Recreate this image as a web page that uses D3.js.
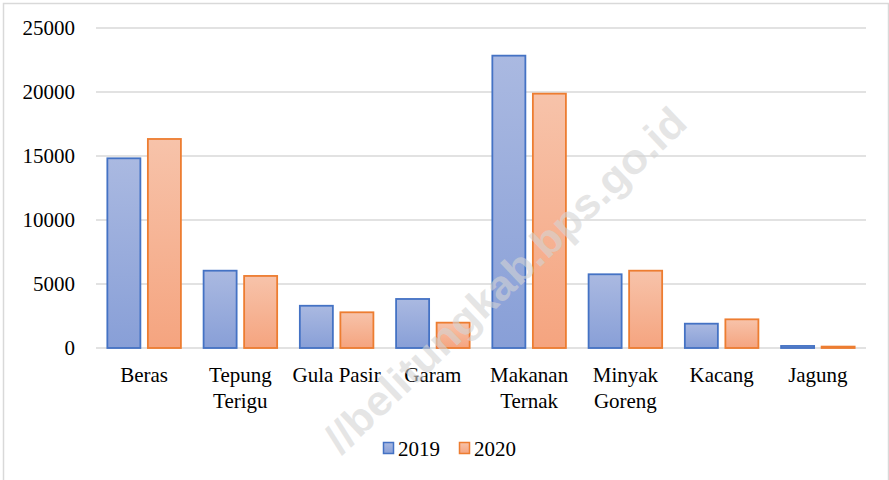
<!DOCTYPE html>
<html>
<head>
<meta charset="utf-8">
<script src="https://cdn.jsdelivr.net/npm/d3@7"></script>
<style>
  body { margin: 0; background: #fff; }
</style>
</head>
<body>
<svg id="chart" width="889" height="480"></svg>
<script>
// data
var categories = ["Beras", "Tepung Terigu", "Gula Pasir", "Garam", "Makanan Ternak", "Minyak Goreng", "Kacang", "Jagung"];
// labels wrapped the way the original shows them
var catLines = [["Beras"], ["Tepung", "Terigu"], ["Gula Pasir"], ["Garam"], ["Makanan", "Ternak"], ["Minyak", "Goreng"], ["Kacang"], ["Jagung"]];
var series = ["2019", "2020"];
var values2019 = [14820, 6040, 3300, 3830, 22840, 5760, 1900, 160];
var values2020 = [16330, 5630, 2790, 1980, 19870, 6040, 2240, 110];
var yTicks = [0, 5000, 10000, 15000, 20000, 25000];

var W = 889, H = 480;
var plot = {left: 96, right: 866, top: 28, bottom: 348};
var serif = '"Liberation Serif", Tinos, "Times New Roman", Times, "Noto Serif", "DejaVu Serif", FreeSerif, serif';

var svg = d3.select("#chart");

// gradients for the bars (lighter at top)
var defs = svg.append("defs");
var grads = [
  {id: "g2019", top: "#aab9e1", bottom: "#889fd7"},
  {id: "g2020", top: "#f7c3aa", bottom: "#f5a47f"}
];
grads.forEach(function (gd) {
  var lg = defs.append("linearGradient").attr("id", gd.id)
    .attr("x1", 0).attr("y1", 0).attr("x2", 0).attr("y2", 1);
  lg.append("stop").attr("offset", "0%").attr("stop-color", gd.top);
  lg.append("stop").attr("offset", "100%").attr("stop-color", gd.bottom);
});
var strokeCol = {"2019": "#4472c4", "2020": "#ed7d31"};

// outer frame
svg.append("rect")
  .attr("x", 3.5).attr("y", 3.5)
  .attr("width", W - 4).attr("height", H)
  .attr("fill", "none").attr("stroke", "#d9d9d9").attr("stroke-width", 1.5);

var x0 = d3.scaleBand().domain(categories).range([plot.left, plot.right]).padding(0);
var x1 = d3.scaleBand().domain(series).range([0, x0.bandwidth()])
  .paddingInner(0.185).paddingOuter(0.28);
var y = d3.scaleLinear().domain([0, 25000]).range([plot.bottom, plot.top]);

// gridlines
var g = svg.append("g");
g.selectAll("line.grid").data(yTicks).enter().append("line")
  .attr("class", "grid")
  .attr("x1", plot.left).attr("x2", plot.right)
  .attr("y1", function (d) { return y(d); })
  .attr("y2", function (d) { return y(d); })
  .attr("stroke", "#d9d9d9").attr("stroke-width", 1.5);

// y axis labels
var yAxis = d3.axisLeft(y).tickValues(yTicks).tickSize(0).tickPadding(0)
  .tickFormat(function (d) { return String(d); });
var ya = svg.append("g").attr("transform", "translate(75,0)").call(yAxis);
ya.select(".domain").remove();
ya.attr("font-family", null).attr("font-size", null);
ya.selectAll("text")
  .style("font-family", serif)
  .style("font-size", "21px").attr("fill", "#000");

// bars
var rows = categories.map(function (c, i) {
  return {cat: c, vals: [{s: "2019", v: values2019[i]}, {s: "2020", v: values2020[i]}]};
});
var grp = g.selectAll("g.cat").data(rows).enter().append("g")
  .attr("class", "cat")
  .attr("transform", function (d) { return "translate(" + x0(d.cat) + ",0)"; });
grp.selectAll("rect").data(function (d) { return d.vals; }).enter().append("rect")
  .attr("x", function (d) { return x1(d.s); })
  .attr("width", x1.bandwidth())
  .attr("y", function (d) { return y(d.v); })
  .attr("height", function (d) { return y(0) - y(d.v); })
  .attr("fill", function (d) { return "url(#g" + d.s + ")"; })
  .attr("stroke", function (d) { return strokeCol[d.s]; })
  .attr("stroke-width", 1.8);

// category labels
var lab = svg.append("g").selectAll("text").data(categories).enter().append("text")
  .attr("x", function (d) { return x0(d) + x0.bandwidth() / 2; })
  .attr("y", 382)
  .attr("text-anchor", "middle")
  .style("font-family", serif)
  .style("font-size", "21px").attr("fill", "#000");
lab.each(function (d, i) {
  var t = d3.select(this);
  catLines[i].forEach(function (ln, k) {
    t.append("tspan").attr("x", x0(d) + x0.bandwidth() / 2)
      .attr("dy", k === 0 ? 0 : 26).text(ln);
  });
});

// legend
var legend = [{s: "2019", x: 383}, {s: "2020", x: 459}];
var lg = svg.append("g");
legend.forEach(function (l) {
  lg.append("rect").attr("x", l.x + 0.5).attr("y", 442.5).attr("width", 10).attr("height", 11)
    .attr("fill", "url(#g" + l.s + ")").attr("stroke", strokeCol[l.s]).attr("stroke-width", 1.5);
  lg.append("text").attr("x", l.x + 15).attr("y", 456)
    .style("font-family", serif)
    .style("font-size", "21px").attr("fill", "#000").text(l.s);
});

// watermark, laid over everything like the scan's stamp
svg.append("text")
  .attr("transform", "translate(505,280) rotate(-43.5)")
  .attr("text-anchor", "middle").attr("dy", "0.35em")
  .attr("textLength", 480).attr("lengthAdjust", "spacingAndGlyphs")
  .style("font-family", "Liberation Sans, Arial, sans-serif")
  .style("font-weight", "bold").style("font-size", "42px")
  .attr("fill", "#d4d4d4").attr("fill-opacity", 0.6)
  .text("//belitungkab.bps.go.id");
</script>
</body>
</html>
